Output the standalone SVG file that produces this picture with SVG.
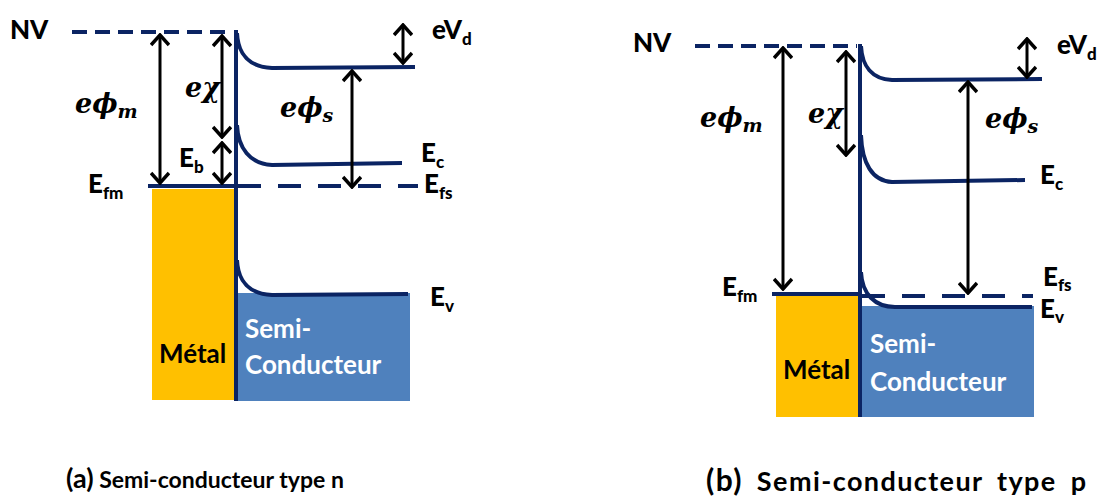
<svg xmlns="http://www.w3.org/2000/svg" width="1102" height="497" viewBox="0 0 1102 497">
<style>
.band{fill:none;stroke:#0B2463;stroke-width:4}
.dash{stroke-dasharray:15 8}
.dash2{stroke-dasharray:23 17}
.arr{stroke:#000;stroke-width:3;fill:none;marker-start:url(#ch);marker-end:url(#ch)}
.lbl{font-family:Lato,"Open Sans",sans-serif;font-weight:900;font-size:26px;fill:#000}
.sub{font-size:17px}
.mat{font-family:Lato,"Open Sans",sans-serif;font-weight:bold;font-size:26px}
.math{font-family:"DejaVu Serif","Liberation Serif",serif;font-style:italic;font-weight:bold;font-size:27px;fill:#000}
.msub{font-size:19px}
.cap{font-family:Lato,"Open Sans",sans-serif;font-weight:bold;fill:#000}
.metal{fill:#FFC000}
.sc{fill:#4F81BD}
</style>
<defs>
<marker id="ch" markerUnits="userSpaceOnUse" viewBox="0 0 14 20" markerWidth="14" markerHeight="20" refX="12" refY="10" orient="auto-start-reverse">
<path d="M2,1 L12,10 L2,19" fill="none" stroke="#000" stroke-width="3.5"/>
</marker>
</defs>

<!-- (a) n-type -->
<g id="metal-a"><rect class="metal" x="152" y="189" width="83" height="211"/><text class="mat" x="159" y="363">Métal</text></g>
<g id="sc-a"><rect class="sc" x="237" y="293" width="173" height="108"/><text class="mat" fill="#fff" x="245" y="338">Semi-</text><text class="mat" fill="#fff" x="245" y="374">Conducteur</text></g>
<g id="bands-a">
<path class="band dash" d="M72,32 L233,32"/>
<path class="band" d="M236,30 L236,401"/>
<path class="band" d="M237,33 C238,55 250,67 272,68 L415,67"/>
<path class="band" d="M237,125 C238,148 250,164 272,165 L402,163"/>
<path class="band" d="M237,260 C238,282 250,294 272,295 L408,294"/>
<path class="band" d="M148,186 L236,186"/>
<path class="band dash2" d="M238,186 L418,186"/>
</g>
<g id="labels-a">
<text class="lbl" x="10" y="39">NV</text>
<text class="lbl" x="432" y="39">eV<tspan class="sub" dy="6">d</tspan></text>
<text class="math" x="75" y="113">eϕ<tspan class="msub" dy="5">m</tspan></text>
<text class="math" x="185" y="97">eχ</text>
<text class="math" x="280" y="117">eϕ<tspan class="msub" dy="5">s</tspan></text>
<text class="lbl" x="179" y="167">E<tspan class="sub" dy="6">b</tspan></text>
<text class="lbl" x="421" y="162">E<tspan class="sub" dy="6">c</tspan></text>
<text class="lbl" x="424" y="193">E<tspan class="sub" dy="6">fs</tspan></text>
<text class="lbl" x="88" y="193">E<tspan class="sub" dy="6">fm</tspan></text>
<text class="lbl" x="430" y="306">E<tspan class="sub" dy="6">v</tspan></text>
</g>

<!-- (b) p-type -->
<g id="metal-b"><rect class="metal" x="776" y="296" width="83" height="121"/><text class="mat" x="783" y="379">Métal</text></g>
<g id="sc-b"><rect class="sc" x="861" y="306" width="173" height="111"/><text class="mat" fill="#fff" x="870" y="353">Semi-</text><text class="mat" fill="#fff" x="870" y="391">Conducteur</text></g>
<g id="bands-b">
<path class="band dash" d="M695,46 L857,46"/>
<path class="band" d="M860,44 L860,417"/>
<path class="band" d="M861,46 C862,66 872,79 892,80 L1042,79"/>
<path class="band" d="M861,135 C862,163 872,181 892,182 L1025,180"/>
<path class="band" d="M861,272 C862,294 875,307 895,307 L1032,307"/>
<path class="band" d="M772,294 L860,294"/>
<path class="band dash2" d="M862,296 L1033,296"/>
</g>
<g id="labels-b">
<text class="lbl" x="633" y="52">NV</text>
<text class="lbl" x="1057" y="54">eV<tspan class="sub" dy="6">d</tspan></text>
<text class="math" x="700" y="127">eϕ<tspan class="msub" dy="5">m</tspan></text>
<text class="math" x="808" y="123">eχ</text>
<text class="math" x="985" y="128">eϕ<tspan class="msub" dy="5">s</tspan></text>
<text class="lbl" x="1040" y="184">E<tspan class="sub" dy="6">c</tspan></text>
<text class="lbl" x="1043" y="286">E<tspan class="sub" dy="5">fs</tspan></text>
<text class="lbl" x="1040" y="318">E<tspan class="sub" dy="5">v</tspan></text>
<text class="lbl" x="722" y="296">E<tspan class="sub" dy="6">fm</tspan></text>
</g>

<g id="connectors">
<path class="arr" d="M160,35 L160,183"/>
<path class="arr" d="M222,36 L222,137"/>
<path class="arr" d="M222,143 L222,183"/>
<path class="arr" d="M352,71 L352,187"/>
<path class="arr" d="M403,25 L403,63"/>
<path class="arr" d="M783,48 L783,289"/>
<path class="arr" d="M846,52 L846,155"/>
<path class="arr" d="M968,82 L968,293"/>
<path class="arr" d="M1027,39 L1027,77"/>
</g>

<g id="captions">
<text class="cap" x="66" y="488" font-size="23"><tspan font-size="27">(a)</tspan> Semi-conducteur type n</text>
<text class="cap" x="706" y="491" font-size="27" word-spacing="6" textLength="380" lengthAdjust="spacing"><tspan font-size="30">(b)</tspan> Semi-conducteur type p</text>
</g>
</svg>
